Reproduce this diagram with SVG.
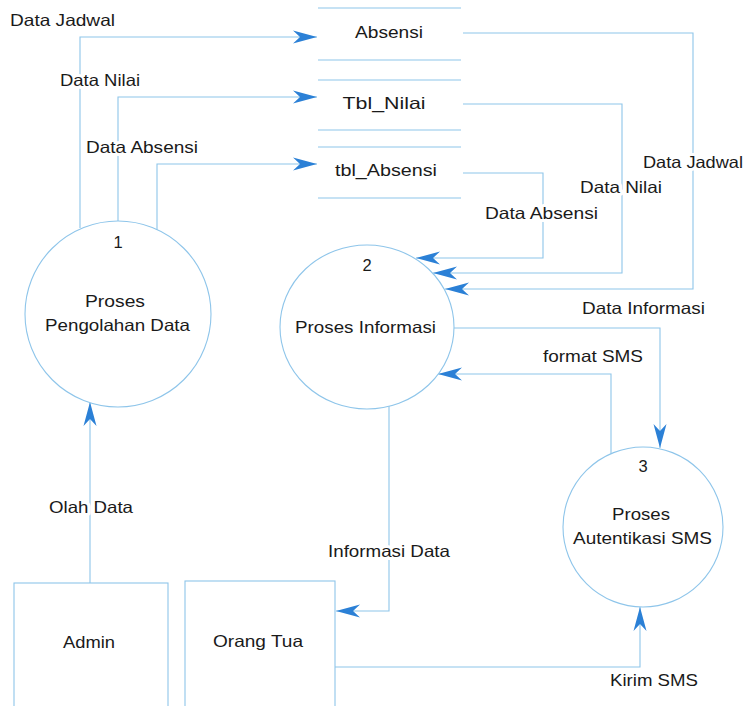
<svg xmlns="http://www.w3.org/2000/svg" width="747" height="706" viewBox="0 0 747 706">
  <style>
    .ln { fill: none; stroke: #8ec5ea; stroke-width: 1.1; }
    .nd { fill: #ffffff; stroke: #8ec5ea; stroke-width: 1.1; }
    .tx { font-family: "Liberation Sans", Arial, sans-serif; font-size: 16.5px; fill: #1a1a1a; }
    .c { text-anchor: middle; }
    .lb { font-family: "Liberation Sans", Arial, sans-serif; font-size: 16.5px; fill: #1a1a1a; stroke: #ffffff; stroke-width: 6; stroke-linejoin: round; paint-order: stroke; }
  </style>
  <defs>
    <marker id="arr" viewBox="-25 -7 26 14" refX="0" refY="0" markerWidth="26" markerHeight="14" orient="auto" markerUnits="userSpaceOnUse">
      <path d="M0,0 L-24,-6.5 L-17,0 L-24,6.5 Z" fill="#2b80d6"/>
    </marker>
  </defs>
  <rect width="747" height="706" fill="#ffffff"/>

  <!-- data flows -->
  <g id="connectors">
    <!-- process 1 to stores -->
    <path class="ln" d="M80,228 V37 H317" marker-end="url(#arr)"/>
    <path class="ln" d="M118,221 V97 H317" marker-end="url(#arr)"/>
    <path class="ln" d="M157,230 V164 H317" marker-end="url(#arr)"/>
    <!-- stores to process 2 -->
    <path class="ln" d="M463,33 H693 V289 H445" marker-end="url(#arr)"/>
    <path class="ln" d="M463,104 H622 V273 H433" marker-end="url(#arr)"/>
    <path class="ln" d="M463,173 H543 V258 H416" marker-end="url(#arr)"/>
    <!-- process 2 / process 3 -->
    <path class="ln" d="M454,328 H660 V448" marker-end="url(#arr)"/>
    <path class="ln" d="M611,454 V374 H438" marker-end="url(#arr)"/>
    <!-- process 2 to Orang Tua -->
    <path class="ln" d="M389,406 V611 H336" marker-end="url(#arr)"/>
    <!-- Orang Tua to process 3 -->
    <path class="ln" d="M335,667 H640 V607" marker-end="url(#arr)"/>
    <!-- Admin to process 1 -->
    <path class="ln" d="M90,583 V402" marker-end="url(#arr)"/>
  </g>

  <!-- data stores -->
  <g id="store-absensi">
    <path class="ln" d="M318,8 H461 M318,60 H461"/>
    <text class="tx c" x="389" y="38" textLength="68" lengthAdjust="spacingAndGlyphs">Absensi</text>
  </g>
  <g id="store-tbl-nilai">
    <path class="ln" d="M318,80 H461 M318,130 H461"/>
    <text class="tx c" x="384" y="109" textLength="83" lengthAdjust="spacingAndGlyphs">Tbl_Nilai</text>
  </g>
  <g id="store-tbl-absensi">
    <path class="ln" d="M318,147 H461 M318,198 H461"/>
    <text class="tx c" x="386" y="176" textLength="102" lengthAdjust="spacingAndGlyphs">tbl_Absensi</text>
  </g>

  <!-- processes -->
  <g id="proc-1">
    <circle class="nd" cx="118" cy="314" r="93"/>
    <text class="tx c" x="118" y="248">1</text>
    <text class="tx c" x="115" y="307" textLength="60" lengthAdjust="spacingAndGlyphs">Proses</text>
    <text class="tx c" x="117.5" y="331" textLength="145" lengthAdjust="spacingAndGlyphs">Pengolahan Data</text>
  </g>
  <g id="proc-2">
    <ellipse class="nd" cx="367" cy="327" rx="87" ry="82"/>
    <text class="tx c" x="367" y="271">2</text>
    <text class="tx c" x="365.5" y="333" textLength="141" lengthAdjust="spacingAndGlyphs">Proses Informasi</text>
  </g>
  <g id="proc-3">
    <circle class="nd" cx="643" cy="527" r="80"/>
    <text class="tx c" x="643" y="472">3</text>
    <text class="tx c" x="641" y="520" textLength="58" lengthAdjust="spacingAndGlyphs">Proses</text>
    <text class="tx c" x="642.5" y="544" textLength="139" lengthAdjust="spacingAndGlyphs">Autentikasi SMS</text>
  </g>

  <!-- external entities -->
  <g id="ent-admin">
    <rect class="nd" x="14" y="583" width="154" height="140"/>
    <text class="tx c" x="89" y="648" textLength="52" lengthAdjust="spacingAndGlyphs">Admin</text>
  </g>
  <g id="ent-orang-tua">
    <rect class="nd" x="185" y="581" width="150" height="140"/>
    <text class="tx c" x="258" y="647" textLength="90" lengthAdjust="spacingAndGlyphs">Orang Tua</text>
  </g>

  <!-- flow labels -->
  <g id="flow-labels">
    <text class="lb" x="10" y="26" textLength="105" lengthAdjust="spacingAndGlyphs">Data Jadwal</text>
    <text class="lb" x="60" y="86" textLength="80" lengthAdjust="spacingAndGlyphs">Data Nilai</text>
    <text class="lb" x="86" y="153" textLength="112" lengthAdjust="spacingAndGlyphs">Data Absensi</text>
    <text class="lb" x="643" y="168" textLength="100" lengthAdjust="spacingAndGlyphs">Data Jadwal</text>
    <text class="lb" x="580" y="193" textLength="82" lengthAdjust="spacingAndGlyphs">Data Nilai</text>
    <text class="lb" x="485" y="219" textLength="113" lengthAdjust="spacingAndGlyphs">Data Absensi</text>
    <text class="lb" x="582" y="314" textLength="123" lengthAdjust="spacingAndGlyphs">Data Informasi</text>
    <text class="lb" x="543" y="362" textLength="100" lengthAdjust="spacingAndGlyphs">format SMS</text>
    <text class="lb" x="328" y="557" textLength="122" lengthAdjust="spacingAndGlyphs">Informasi Data</text>
    <text class="lb" x="610" y="686" textLength="88" lengthAdjust="spacingAndGlyphs">Kirim SMS</text>
    <text class="lb" x="49" y="513" textLength="84" lengthAdjust="spacingAndGlyphs">Olah Data</text>
  </g>
</svg>
